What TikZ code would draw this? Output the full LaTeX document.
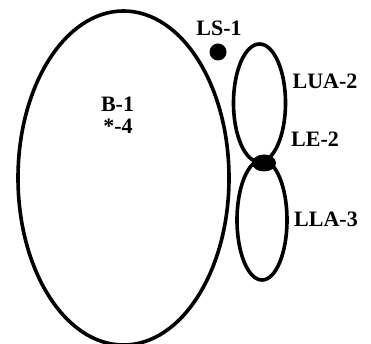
\documentclass[tikz,border=0pt]{standalone}
\usepackage{fontspec}
\setmainfont{Liberation Serif}
\begin{document}
\begin{tikzpicture}[x=1pt,y=1pt,
  limb/.style={draw=black,line width=3.6pt},
  lbl/.style={font=\fontsize{22}{24}\selectfont\bfseries,inner sep=0pt},
  blob/.style={fill=black}]
\useasboundingbox (0,0) rectangle (371,344);
\draw[limb] (123.5,166) ellipse [x radius=105.5, y radius=167];
\draw[limb] (259.5,241) ellipse [x radius=26, y radius=59];
\draw[limb] (262,124) ellipse [x radius=25, y radius=60];
\fill[blob] (264,181) ellipse [x radius=12, y radius=8.5];
\fill[blob] (218,292) circle [radius=8.5];
\node[lbl] (ls) at (219,316) {LS-1};
\node[lbl] (lua) at (325,263) {LUA-2};
\node[lbl] (le) at (315,205) {LE-2};
\node[lbl] (lla) at (326,125) {LLA-3};
\node[lbl] (b) at (117.5,240) {B-1};
\node[lbl] (s) at (118,218) {*-4};
\end{tikzpicture}
\end{document}
